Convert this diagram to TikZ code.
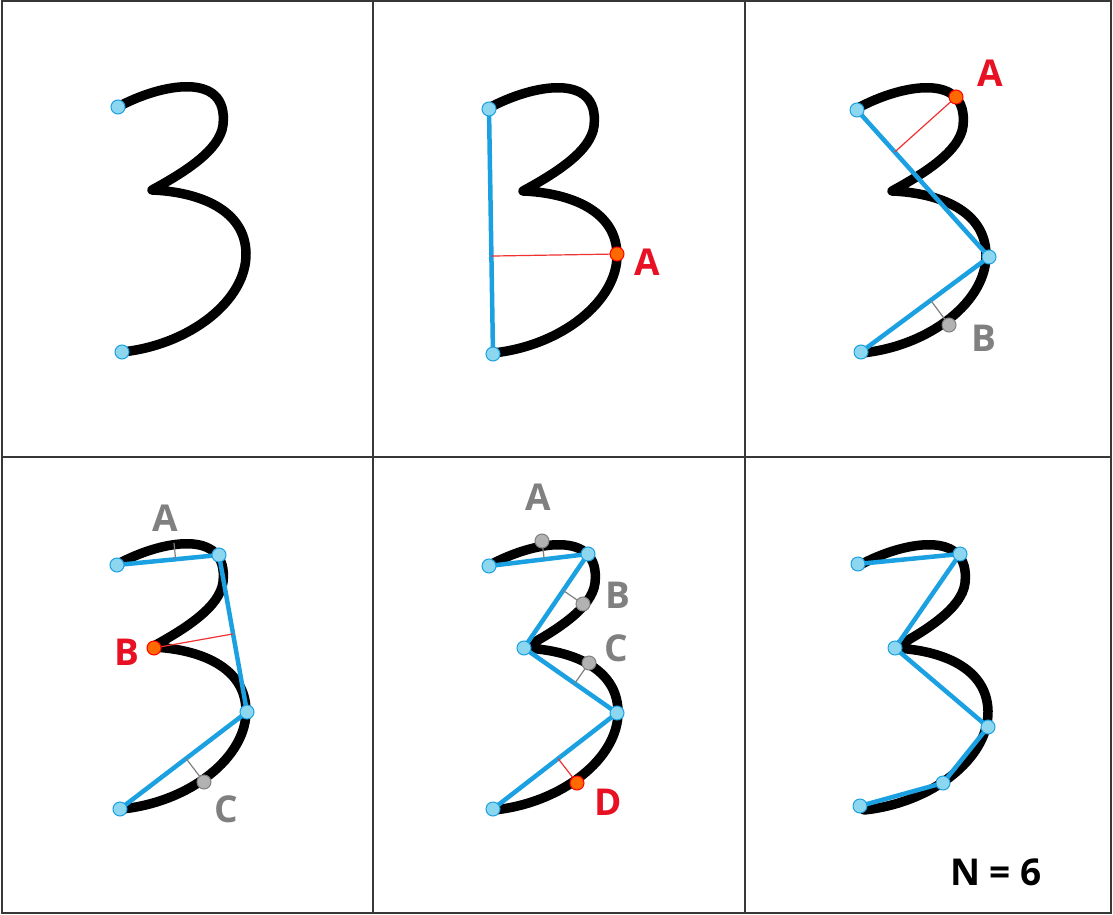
\documentclass[tikz,border=0pt]{standalone}
\usepackage{fontspec}
\setmainfont{Open Sans}
\usetikzlibrary{calc}
\pgfdeclarelayer{paperlayer}
\pgfdeclarelayer{curvelayer}
\pgfdeclarelayer{linelayer}
\pgfsetlayers{paperlayer,curvelayer,linelayer,main}
\definecolor{dpblue}{RGB}{27,161,226}
\definecolor{dotblue}{RGB}{140,214,240}
\definecolor{dporange}{RGB}{255,106,0}
\definecolor{dpred}{RGB}{232,17,35}
\definecolor{perpredc}{RGB}{240,50,50}
\definecolor{dpgray}{RGB}{128,128,128}
\definecolor{dotgray}{RGB}{178,178,178}
\definecolor{gridline}{RGB}{55,55,55}
\tikzset{
  digit/.style={line width=9.5pt, line cap=round, line join=round, draw=black},
  simp/.style={line width=4.5pt, draw=dpblue, line cap=round, line join=round},
  perpred/.style={line width=1.2pt, draw=perpredc},
  perpgray/.style={line width=1.2pt, draw=dpgray},
  dotbase/.style={circle, line width=1pt, minimum size=14pt, inner sep=0pt},
  vtx/.style={dotbase, fill=dotblue, draw=dpblue},
  farpt/.style={dotbase, fill=dporange, draw=red},
  candpt/.style={dotbase, fill=dotgray, draw=dpgray},
  lbl/.style={anchor=base, inner sep=0pt, font=\fontsize{37}{40}\selectfont\bfseries},
  lblred/.style={lbl, text=dpred},
  lblgray/.style={lbl, text=dpgray},
  gridstyle/.style={line width=2pt, draw=gridline}
}
\newcommand\drawdigit[2]{%
  \begin{pgfonlayer}{curvelayer}
  \draw[digit, shift={(#1,#2)}] (118,107) .. controls (160,84) and (229,70) .. (223,125)
    .. controls (220,150) and (185,172) .. (152,190)
    .. controls (200,192) and (245,210) .. (246,253)
    .. controls (247,300) and (190,345) .. (122,352);
  \end{pgfonlayer}}
\begin{document}
\begin{tikzpicture}[x=1pt,y=-1pt]
\useasboundingbox (0,0) rectangle (1113,915);
\begin{pgfonlayer}{paperlayer}
\fill[white] (0,0) rectangle (1113,915);
\end{pgfonlayer}
% grid
\draw[gridstyle] (1.5,1.5) rectangle (1110.5,912.5);
\draw[gridstyle] (373,1.5) -- (373,912.5);
\draw[gridstyle] (744.5,1.5) -- (744.5,912.5);
\draw[gridstyle] (1.5,457) -- (1110.5,457);

% ---------- panel 1
\begin{scope}[shift={(0,0)}]
  \drawdigit{0}{0}
  \node[vtx] (p1S) at (118,107) {};
  \node[vtx] (p1E) at (122,352) {};
\end{scope}

% ---------- panel 2
\begin{scope}[shift={(372,0)}]
  \drawdigit{-1}{1}
  \node[vtx] (p2S) at (117,109) {};
  \node[vtx] (p2E) at (121,354) {};
  \node[farpt] (p2A) at (245,254) {};
  \coordinate (p2fA) at ($(p2S)!(p2A)!(p2E)$);
  \begin{pgfonlayer}{linelayer}
    \draw[simp] (p2S.center) -- (p2E.center);
    \draw[perpred] (p2A.center) -- (p2fA);
  \end{pgfonlayer}
  \node[lblred] (p2lA) at (275,275) {A};
\end{scope}

% ---------- panel 3
\begin{scope}[shift={(744,0)}]
  \drawdigit{-4}{1}
  \node[vtx] (p3S) at (113,110) {};
  \node[vtx] (p3R) at (245,257) {};
  \node[vtx] (p3E) at (117,352) {};
  \node[farpt] (p3A) at (212,97) {};
  \node[candpt] (p3B) at (205,325) {};
  \coordinate (p3fA) at ($(p3S)!(p3A)!(p3R)$);
  \coordinate (p3fB) at ($(p3R)!(p3B)!(p3E)$);
  \begin{pgfonlayer}{linelayer}
    \draw[simp] (p3S.center) -- (p3R.center) -- (p3E.center);
    \draw[perpred] (p3A.center) -- (p3fA);
    \draw[perpgray] (p3B.center) -- (p3fB);
  \end{pgfonlayer}
  \node[lblred] (p3lA) at (246,87) {A};
  \node[lblgray] (p3lB) at (240,351) {B};
\end{scope}

% ---------- panel 4
\begin{scope}[shift={(0,457)}]
  \drawdigit{0}{0}
  \node[vtx] (p4S) at (117,108) {};
  \node[vtx] (p4T) at (219,98) {};
  \node[vtx] (p4R) at (247,255) {};
  \node[vtx] (p4E) at (120,352) {};
  \coordinate (p4A) at (174,86);
  \node[farpt] (p4B) at (154,191) {};
  \node[candpt] (p4C) at (204,325) {};
  \coordinate (p4fA) at ($(p4S)!(p4A)!(p4T)$);
  \coordinate (p4fB) at ($(p4T)!(p4B)!(p4R)$);
  \coordinate (p4fC) at ($(p4R)!(p4C)!(p4E)$);
  \begin{pgfonlayer}{linelayer}
    \draw[simp] (p4S.center) -- (p4T.center) -- (p4R.center) -- (p4E.center);
    \draw[perpgray] (p4A) -- (p4fA);
    \draw[perpred] (p4B.center) -- (p4fB);
    \draw[perpgray] (p4C.center) -- (p4fC);
  \end{pgfonlayer}
  \node[lblgray] (p4lA) at (165,74) {A};
  \node[lblred] (p4lB) at (127,208) {B};
  \node[lblgray] (p4lC) at (226,365) {C};
\end{scope}

% ---------- panel 5
\begin{scope}[shift={(372,457)}]
  \drawdigit{0}{1}
  \node[vtx] (p5S) at (117,109) {};
  \node[vtx] (p5T) at (216,97) {};
  \node[vtx] (p5K) at (152,191) {};
  \node[vtx] (p5R) at (245,256) {};
  \node[vtx] (p5E) at (121,352) {};
  \node[candpt] (p5A) at (170,84) {};
  \node[candpt] (p5B) at (211,147) {};
  \node[candpt] (p5C) at (217,206) {};
  \node[farpt] (p5D) at (205,326) {};
  \coordinate (p5fA) at ($(p5S)!(p5A)!(p5T)$);
  \coordinate (p5fB) at ($(p5T)!(p5B)!(p5K)$);
  \coordinate (p5fC) at ($(p5K)!(p5C)!(p5R)$);
  \coordinate (p5fD) at ($(p5R)!(p5D)!(p5E)$);
  \begin{pgfonlayer}{linelayer}
    \draw[simp] (p5S.center) -- (p5T.center) -- (p5K.center) -- (p5R.center) -- (p5E.center);
    \draw[perpgray] (p5A.center) -- (p5fA);
    \draw[perpgray] (p5B.center) -- (p5fB);
    \draw[perpgray] (p5C.center) -- (p5fC);
    \draw[perpred] (p5D.center) -- (p5fD);
  \end{pgfonlayer}
  \node[lblgray] (p5lA) at (166,53) {A};
  \node[lblgray] (p5lB) at (246,151) {B};
  \node[lblgray] (p5lC) at (244,204) {C};
  \node[lblred] (p5lD) at (236,358) {D};
\end{scope}

% ---------- panel 6
\begin{scope}[shift={(744,457)}]
  \drawdigit{-2}{1}
  \node[vtx] (p6S) at (114,107) {};
  \node[vtx] (p6T) at (216,97) {};
  \node[vtx] (p6K) at (151,191) {};
  \node[vtx] (p6R) at (244,270) {};
  \node[vtx] (p6D) at (199,326) {};
  \node[vtx] (p6E) at (116,349) {};
  \begin{pgfonlayer}{linelayer}
    \draw[simp] (p6S.center) -- (p6T.center) -- (p6K.center) -- (p6R.center) -- (p6D.center) -- (p6E.center);
  \end{pgfonlayer}
  \node[lbl, text=black] (p6N) at (252,428) {N = 6};
\end{scope}
\end{tikzpicture}
\end{document}
